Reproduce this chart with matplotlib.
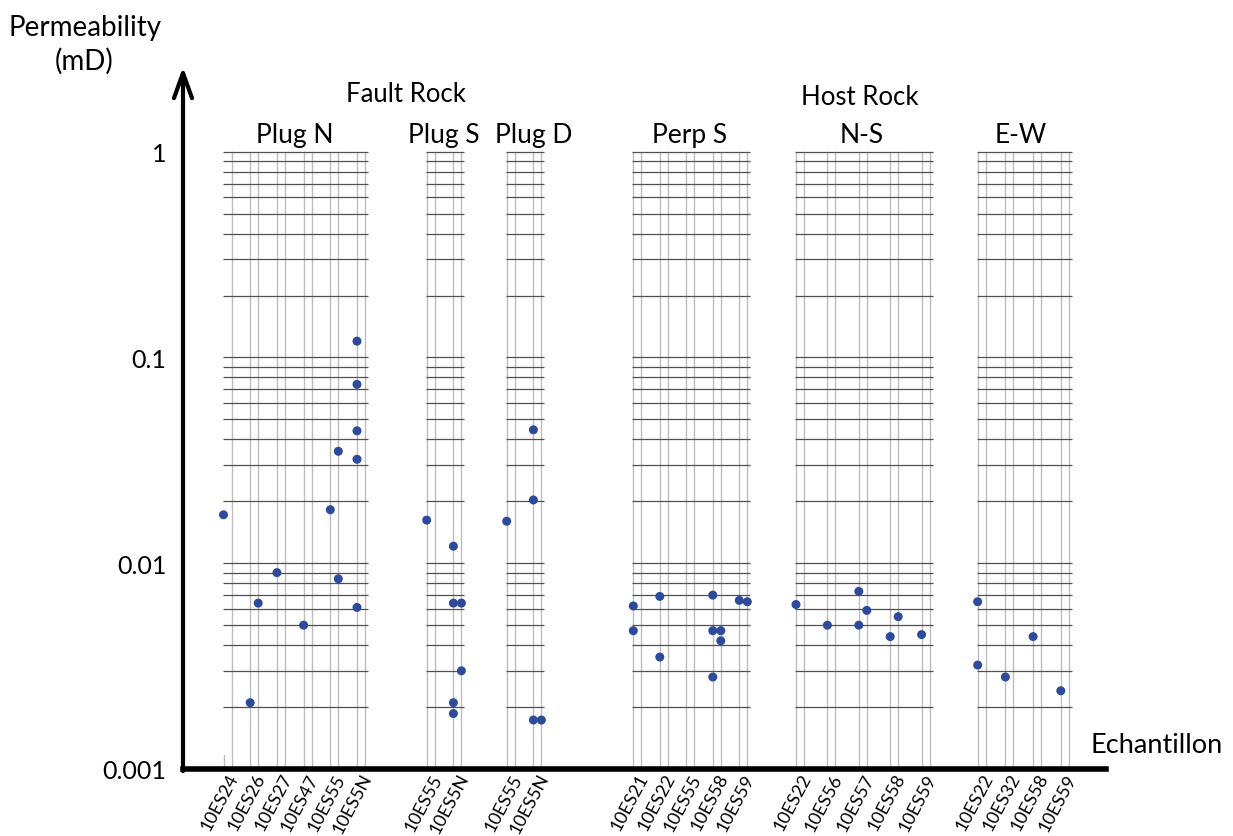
import numpy as np
import matplotlib
matplotlib.use("Agg")
import matplotlib.pyplot as plt

plt.rcParams['font.family'] = ['Lato', 'DejaVu Sans']

W, H = 1233, 837

# sample names per group
groups = ["Plug N", "Plug S", "Plug D", "Perp S", "N-S", "E-W"]
plug_n_samples = ["10ES24", "10ES26", "10ES27", "10ES47", "10ES55", "10ES5N"]
plug_s_samples = ["10ES55", "10ES5N"]
plug_d_samples = ["10ES55", "10ES5N"]
perp_s_samples = ["10ES21", "10ES22", "10ES55", "10ES58", "10ES59"]
ns_samples = ["10ES22", "10ES56", "10ES57", "10ES58", "10ES59"]
ew_samples = ["10ES22", "10ES32", "10ES58", "10ES59"]

# measurements: sample index, which of the two lines, permeability (mD)
plug_n_idx = [0, 1, 1, 2, 3, 4, 4, 4, 5, 5, 5, 5, 5]
plug_n_side = [0, 0, 1, 0, 0, 0, 1, 1, 0, 0, 0, 0, 0]
plug_n_perm = [0.0172, 0.0021, 0.0064, 0.009, 0.005, 0.0182, 0.035, 0.0084,
               0.12, 0.074, 0.044, 0.032, 0.0061]

plug_s_idx = [0, 1, 1, 1, 1, 1, 1]
plug_s_side = [0, 0, 0, 1, 1, 0, 0]
plug_s_perm = [0.0162, 0.0121, 0.0064, 0.0064, 0.003, 0.0021, 0.00186]

plug_d_idx = [0, 1, 1, 1, 1]
plug_d_side = [0, 0, 0, 0, 1]
plug_d_perm = [0.016, 0.0445, 0.0203, 0.00173, 0.00173]

perp_s_idx = [0, 0, 1, 1, 3, 3, 3, 3, 3, 4, 4]
perp_s_side = [0, 0, 0, 0, 0, 0, 0, 1, 1, 0, 1]
perp_s_perm = [0.0062, 0.0047, 0.0069, 0.0035, 0.007, 0.0047, 0.0028,
               0.0047, 0.0042, 0.0066, 0.0065]

ns_idx = [0, 1, 2, 2, 2, 3, 3, 4]
ns_side = [0, 0, 0, 0, 1, 0, 1, 0]
ns_perm = [0.0063, 0.005, 0.0073, 0.005, 0.0059, 0.0044, 0.0055, 0.0045]

ew_idx = [0, 0, 1, 2, 3]
ew_side = [0, 0, 0, 0, 0]
ew_perm = [0.0065, 0.0032, 0.0028, 0.0044, 0.0024]

y_ticks = [0.001, 0.01, 0.1, 1]
y_ticklabels = ["0.001", "0.01", "0.1", "1"]

# layout of the groups along x (first line, pitch between samples, header x)
layout = {
    "Plug N": (223.5, 26.7, 295),
    "Plug S": (426.7, 26.7, 444),
    "Plug D": (506.7, 26.7, 534),
    "Perp S": (633.3, 26.5, 690),
    "N-S": (796.0, 31.4, 862),
    "E-W": (977.7, 27.7, 1021),
}
pair_gap = 8.0

group_data = {
    "Plug N": (plug_n_samples, plug_n_idx, plug_n_side, plug_n_perm),
    "Plug S": (plug_s_samples, plug_s_idx, plug_s_side, plug_s_perm),
    "Plug D": (plug_d_samples, plug_d_idx, plug_d_side, plug_d_perm),
    "Perp S": (perp_s_samples, perp_s_idx, perp_s_side, perp_s_perm),
    "N-S": (ns_samples, ns_idx, ns_side, ns_perm),
    "E-W": (ew_samples, ew_idx, ew_side, ew_perm),
}

grid_levels = [k * 10.0 ** d for d in (-3, -2, -1) for k in range(1, 10)][1:] + [1.0]

fig = plt.figure(figsize=(W / 100, H / 100), dpi=100)
ax = fig.add_axes([183 / W, 67 / H, (1106 - 183) / W, (770 - 68) / H])
ax.set_yscale('log')
ax.set_ylim(0.001, 2.58)
ax.set_xlim(183, 1106)

dot_color = '#2e4b9b'
tick_pos = []
tick_lab = []
for g in groups:
    x0, pitch, hx = layout[g]
    names, idx, side, perm = group_data[g]
    n = len(names)
    for i in range(n):
        xl = x0 + i * pitch
        xr = xl + pair_gap
        if g == "Plug N" and i == 0:
            ax.plot([xl, xl], [0.001, 0.00117], color='#bdbdbd', lw=1, zorder=1)
        else:
            ax.plot([xl, xl], [0.001, 1], color='#bdbdbd', lw=1, zorder=1)
        ax.plot([xr, xr], [0.001, 1], color='#bdbdbd', lw=1, zorder=1)
        tick_pos.append(xr + 3)
        tick_lab.append(names[i])
    x_end = x0 + (n - 1) * pitch + pair_gap + 3
    ax.hlines(grid_levels, x0 - 1, x_end, color='#505050', lw=0.9, zorder=2)
    xs = [x0 + i * pitch + s * pair_gap for i, s in zip(idx, side)]
    ax.scatter(xs, perm, s=42, color=dot_color, edgecolors='none', zorder=3)
    fig.text(hx / W, 1 - 143 / H, g, ha='center', va='baseline', fontsize=19)

for s in ['top', 'right', 'left']:
    ax.spines[s].set_visible(False)
ax.spines['bottom'].set_linewidth(4)
ax.spines['bottom'].set_capstyle('projecting')
ax.annotate('', xy=(0, 1), xytext=(0, -0.003), xycoords='axes fraction',
            arrowprops=dict(arrowstyle='->, head_length=1.8, head_width=0.65',
                            lw=3, color='black', shrinkA=0, shrinkB=0))

ax.set_yticks(y_ticks, y_ticklabels)
ax.minorticks_off()
ax.tick_params(axis='y', length=0, pad=12, labelsize=18)
ax.set_xticks(tick_pos, tick_lab)
ax.tick_params(axis='x', length=0, pad=4, labelsize=13)
for lab in ax.get_xticklabels():
    lab.set_rotation(62)
    lab.set_rotation_mode('anchor')
    lab.set_ha('right')
    lab.set_va('center')

fig.text(85 / W, 1 - 36 / H, "Permeability", ha='center', va='baseline', fontsize=20)
fig.text(84 / W, 1 - 70 / H, "(mD)", ha='center', va='baseline', fontsize=20)
fig.text(406 / W, 1 - 102 / H, "Fault Rock", ha='center', va='baseline', fontsize=18.5)
fig.text(860 / W, 1 - 105 / H, "Host Rock", ha='center', va='baseline', fontsize=18.5)
fig.text(1157 / W, 1 - 753 / H, "Echantillon", ha='center', va='baseline', fontsize=19.5)

fig.savefig("out.png", dpi=100)
